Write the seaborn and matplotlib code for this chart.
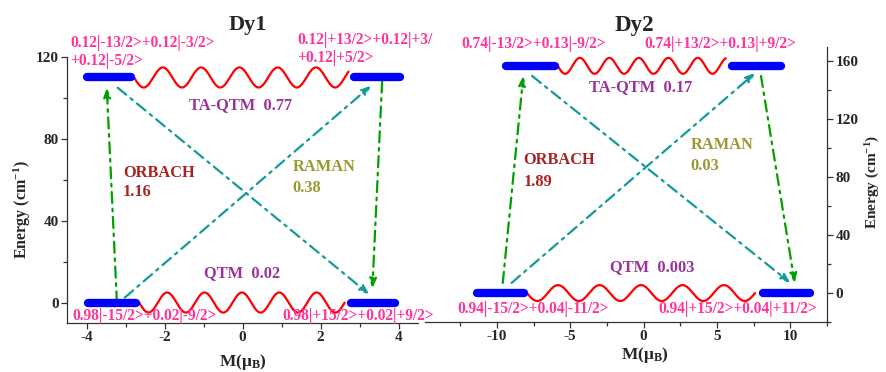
import numpy as np
import pandas as pd
import matplotlib
matplotlib.use("Agg")
import matplotlib.pyplot as plt
from matplotlib.ticker import MultipleLocator
import seaborn as sns

# ---------------- data ----------------
# energy levels (cm^-1) of the ground and first excited Kramers doublets
dy1_energy = [0, 110]
dy2_energy = [0, 157]

# level bars: (M_start, M_end, energy)
dy1_bars_m0 = [-3.95, 2.78, -4.0, 2.85]
dy1_bars_m1 = [-2.72, 3.9, -2.85, 4.05]
dy1_bars_e = [0, 0, 110, 110]

dy2_bars_m0 = [-11.35, 8.15, -9.35, 6.05]
dy2_bars_m1 = [-8.15, 11.35, -6.05, 9.35]
dy2_bars_e = [0, 0, 157, 157]

# tunnelling (wavy) connections: (M_start, M_end, energy)
dy1_wave_m0 = [-2.65, -2.78]
dy1_wave_m1 = [2.62, 2.72]
dy1_wave_e = [0, 110]
dy2_wave_m0 = [-7.95, -5.85]
dy2_wave_m1 = [7.6, 5.6]
dy2_wave_e = [0, 157]

# Orbach arrows (x0, y0, x1, y1)
dy1_orbach = [(-3.22, 0, -3.48, 105), (3.58, 108, 3.33, 7)]
dy2_orbach = [(-9.6, 7, -8.2, 150), (8.0, 150, 10.3, 7)]
# Raman arrows
dy1_raman = [(-3.02, 2.4, 3.3, 106), (-3.2, 105, 3.25, 4)]
dy2_raman = [(-9.0, 7, 7.6, 152), (-7.6, 150, 10.0, 7)]

dy1_rates = {"TA-QTM": "0.77", "ORBACH": "1.16", "RAMAN": "0.38", "QTM": "0.02"}
dy2_rates = {"TA-QTM": "0.17", "ORBACH": "1.89", "RAMAN": "0.03", "QTM": "0.003"}

dy1_states = ["0.12|-13/2>+0.12|-3/2>", "+0.12|-5/2>",
              "0.12|+13/2>+0.12|+3/", "+0.12|+5/2>",
              "0.98|-15/2>+0.02|-9/2>", "0.98|+15/2>+0.02|+9/2>"]
dy2_states = ["0.74|-13/2>+0.13|-9/2>", "0.74|+13/2>+0.13|+9/2>",
              "0.94|-15/2>+0.04|-11/2>", "0.94|+15/2>+0.04|+11/2>"]

# ---------------- style ----------------
sns.set_style("ticks")
plt.rcParams["font.family"] = ["Liberation Serif", "DejaVu Serif"]
plt.rcParams["font.weight"] = "bold"
plt.rcParams["axes.unicode_minus"] = False
plt.rcParams["mathtext.fontset"] = "custom"
plt.rcParams["mathtext.rm"] = "Liberation Serif:bold"
plt.rcParams["mathtext.bf"] = "Liberation Serif:bold"
plt.rcParams["mathtext.it"] = "Liberation Serif:bold"
plt.rcParams["mathtext.default"] = "bf"

PINK = "#FF3399"
PURPLE = "#993399"
DARKRED = "#AA2222"
OLIVE = "#999933"
GREEN = "#00A000"
TEAL = "#139A9A"
BLUE = "#0000FF"
RED = "#FF0000"
AX = "#333333"

STATE_FS = 11.2
RATE_FS = 11.8

fig = plt.figure(figsize=(8.86, 3.72), dpi=100)
ax1 = fig.add_axes([67 / 886, 1 - 323 / 372, (418 - 67) / 886, (323 - 57) / 372])
ax2 = fig.add_axes([425 / 886, 1 - 322 / 372, (827 - 425) / 886, (322 - 47) / 372])


def bars_df(m0, m1, e):
    rows = []
    for i, (a, b, y) in enumerate(zip(m0, m1, e)):
        rows.append({"M": a, "E": y, "bar": i})
        rows.append({"M": b, "E": y, "bar": i})
    return pd.DataFrame(rows)


def wave_df(m0, m1, e, amp, cycles):
    frames = []
    for i, (a, b, y, c) in enumerate(zip(m0, m1, e, cycles)):
        x = np.linspace(a, b, 300)
        yy = y - amp * np.sin(2 * np.pi * c * (x - a) / (b - a))
        frames.append(pd.DataFrame({"M": x, "E": yy, "w": i}))
    return pd.concat(frames)


def arrows(ax, lst, color):
    for x0, y0, x1, y1 in lst:
        ax.annotate("", xy=(x1, y1), xytext=(x0, y0),
                    arrowprops=dict(arrowstyle="-|>,head_length=0.55,head_width=0.22",
                                    color=color, lw=1.6,
                                    linestyle=(0, (5, 2.5, 1.2, 2.5)),
                                    shrinkA=0, shrinkB=0))


def panel(ax, bm0, bm1, be, wm0, wm1, we, amp, cycles):
    sns.lineplot(data=wave_df(wm0, wm1, we, amp, cycles), x="M", y="E", units="w",
                 estimator=None, sort=False, color=RED, lw=1.6, ax=ax, legend=False)
    sns.lineplot(data=bars_df(bm0, bm1, be), x="M", y="E", units="bar",
                 estimator=None, sort=False, color=BLUE, lw=6.0,
                 solid_capstyle="round", ax=ax, legend=False, zorder=5)


panel(ax1, dy1_bars_m0, dy1_bars_m1, dy1_bars_e, dy1_wave_m0, dy1_wave_m1, dy1_wave_e, 4.9, [5.5, 5.6])
panel(ax2, dy2_bars_m0, dy2_bars_m1, dy2_bars_e, dy2_wave_m0, dy2_wave_m1, dy2_wave_e, 5.5, [5.5, 5.7])

arrows(ax1, dy1_orbach, GREEN)
arrows(ax1, dy1_raman, TEAL)
arrows(ax2, dy2_orbach, GREEN)
arrows(ax2, dy2_raman, TEAL)

# axes setup
ax1.set_xlim(-4.5, 4.5)
ax1.set_ylim(-10, 120)
ax1.xaxis.set_major_locator(MultipleLocator(2))
ax1.xaxis.set_minor_locator(MultipleLocator(1))
ax1.yaxis.set_major_locator(MultipleLocator(40))
ax1.yaxis.set_minor_locator(MultipleLocator(20))
ax1.spines["top"].set_visible(False)
ax1.spines["right"].set_visible(False)

ax2.set_xlim(-14.9, 12.5)
ax2.set_ylim(-20, 170)
ax2.xaxis.set_major_locator(MultipleLocator(5))
ax2.xaxis.set_minor_locator(MultipleLocator(2.5))
ax2.yaxis.set_major_locator(MultipleLocator(40))
ax2.yaxis.set_minor_locator(MultipleLocator(20))
ax2.spines["top"].set_visible(False)
ax2.spines["left"].set_visible(False)
ax2.yaxis.tick_right()

for ax in (ax1, ax2):
    for s in ax.spines.values():
        s.set_color(AX)
        s.set_linewidth(0.9)
    ax.tick_params(which="major", direction="out", length=4, width=0.9, color=AX,
                   labelsize=11, pad=2)
    ax.tick_params(which="minor", direction="out", length=3, width=0.9, color=AX)
    for lab in ax.get_xticklabels() + ax.get_yticklabels():
        lab.set_fontweight("bold")
    ax.set_xlabel("")
    ax.set_ylabel("")
    ax.patch.set_alpha(0)

# axis titles
fig.text(243 / 886, 1 - 362 / 372, "M(μ$_{B}$)", fontsize=12.5, fontweight="bold",
         ha="center", va="center")
fig.text(645 / 886, 1 - 355 / 372, "M(μ$_{B}$)", fontsize=12.5, fontweight="bold",
         ha="center", va="center")
fig.text(22 / 886, 1 - 210 / 372, "Energy (cm$^{-1}$)", fontsize=11.5, fontweight="bold",
         ha="center", va="center", rotation=90)
fig.text(873 / 886, 1 - 182 / 372, "Energy (cm$^{-1}$)", fontsize=11, fontweight="bold",
         ha="center", va="center", rotation=90)

kw = dict(fontweight="bold", clip_on=False, va="center", ha="left")
# Dy1 texts
ax1.text(0.13, 135.6, "Dy1", fontsize=16, ha="center", va="center", fontweight="bold")
ax1.text(-4.42, 126.8, dy1_states[0], color=PINK, fontsize=STATE_FS, **kw)
ax1.text(-4.42, 118.0, dy1_states[1], color=PINK, fontsize=STATE_FS, **kw)
ax1.text(1.41, 128.3, dy1_states[2], color=PINK, fontsize=STATE_FS, **kw)
ax1.text(1.41, 119.5, dy1_states[3], color=PINK, fontsize=STATE_FS, **kw)
ax1.text(-4.35, -6.8, dy1_states[4], color=PINK, fontsize=STATE_FS, **kw)
ax1.text(1.02, -6.8, dy1_states[5], color=PINK, fontsize=STATE_FS, **kw)
ax1.text(-1.38, 96.6, "TA-QTM  " + dy1_rates["TA-QTM"], color=PURPLE, fontsize=RATE_FS, **kw)
ax1.text(-1.0, 14.6, "QTM  " + dy1_rates["QTM"], color=PURPLE, fontsize=RATE_FS, **kw)
ax1.text(-3.07, 63.4, "ORBACH", color=DARKRED, fontsize=RATE_FS, **kw)
ax1.text(-3.07, 54.0, dy1_rates["ORBACH"], color=DARKRED, fontsize=RATE_FS, **kw)
ax1.text(1.28, 66.3, "RAMAN", color=OLIVE, fontsize=RATE_FS, **kw)
ax1.text(1.28, 56.0, dy1_rates["RAMAN"], color=OLIVE, fontsize=RATE_FS, **kw)

# Dy2 texts
ax2.text(-0.6, 185, "Dy2", fontsize=16.5, ha="center", va="center", fontweight="bold")
ax2.text(-12.4, 172, dy2_states[0], color=PINK, fontsize=STATE_FS, **kw)
ax2.text(0.07, 172, dy2_states[1], color=PINK, fontsize=STATE_FS, **kw)
ax2.text(-12.7, -11, dy2_states[2], color=PINK, fontsize=STATE_FS, **kw)
ax2.text(1.0, -11, dy2_states[3], color=PINK, fontsize=STATE_FS, **kw)
ax2.text(-3.7, 142, "TA-QTM  " + dy2_rates["TA-QTM"], color=PURPLE, fontsize=RATE_FS, **kw)
ax2.text(-2.3, 18, "QTM  " + dy2_rates["QTM"], color=PURPLE, fontsize=RATE_FS, **kw)
ax2.text(-8.2, 91.7, "ORBACH", color=DARKRED, fontsize=RATE_FS, **kw)
ax2.text(-8.2, 77.0, dy2_rates["ORBACH"], color=DARKRED, fontsize=RATE_FS, **kw)
ax2.text(3.2, 102, "RAMAN", color=OLIVE, fontsize=RATE_FS, **kw)
ax2.text(3.2, 87.6, dy2_rates["RAMAN"], color=OLIVE, fontsize=RATE_FS, **kw)

fig.savefig("out.png", dpi=100)
